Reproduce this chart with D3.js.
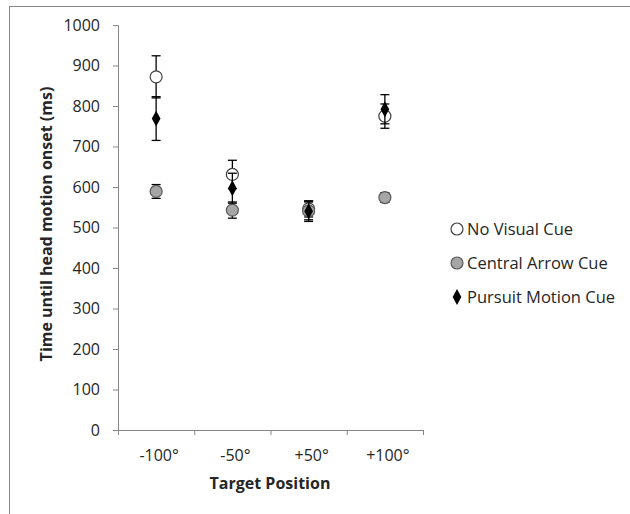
<!DOCTYPE html>
<html><head><meta charset="utf-8">
<script src="https://cdn.jsdelivr.net/npm/d3@7"></script>
<style>body{margin:0;background:#fff}svg{display:block}</style>
</head><body>
<svg id="c" width="630" height="514"></svg>
<script>
const categories = ["-100°", "-50°", "+50°", "+100°"];
const seriesNames = ["No Visual Cue", "Central Arrow Cue", "Pursuit Motion Cue"];
const noVisual = [872, 631, 546, 775];
const noVisualErr = [52, 35, 20, 30];
const centralArrow = [589, 543, 541, 574];
const centralArrowErr = [17, 20, 22, 12];
const pursuit = [769, 597, 540, 792];
const pursuitErr = [54, 37, 25, 36];
const yTicks = [0, 100, 200, 300, 400, 500, 600, 700, 800, 900, 1000];

const svg = d3.select("#c");
const font = "'Open Sans', sans-serif";
const txt = "#262626";

svg.append("rect").attr("x", 9.5).attr("y", 6.5).attr("width", 640).attr("height", 530)
  .attr("fill", "#fff").attr("stroke", "#8a8a8a").attr("stroke-width", 1);

const L = 118, R = 423, T = 25, B = 430;
const x = d3.scaleBand().domain(categories).range([L, R]);
const xEdge = d3.scaleLinear().domain([0, categories.length]).range([L, R]);
const y = d3.scaleLinear().domain([0, 1000]).range([B, T]);

// y axis
const ya = svg.append("g").attr("transform", `translate(${L},0)`)
  .call(d3.axisLeft(y).tickValues(yTicks).tickSize(5).tickSizeOuter(0).tickPadding(13).tickFormat(d3.format("d")));
ya.select(".domain").attr("stroke", "#868686");
ya.selectAll(".tick line").attr("stroke", "#868686");
ya.selectAll("text").attr("font-family", font).attr("font-size", 16).attr("fill", txt);

// x axis ticks at edges
const xe = svg.append("g").attr("transform", `translate(0,${B})`)
  .call(d3.axisBottom(xEdge).ticks(4).tickSize(5).tickSizeOuter(0).tickFormat(""));
xe.select(".domain").attr("stroke", "#868686");
xe.selectAll(".tick line").attr("stroke", "#868686");
// x labels
const xl = svg.append("g").attr("transform", `translate(3,${B})`)
  .call(d3.axisBottom(x).tickSize(0).tickPadding(20));
xl.select(".domain").remove();
xl.selectAll("text").attr("font-family", font).attr("font-size", 16).attr("fill", txt);

// titles
svg.append("text").attr("x", 270).attr("y", 489).attr("text-anchor", "middle")
  .attr("font-family", font).attr("font-weight", "bold").attr("font-size", 16).attr("fill", txt)
  .text("Target Position");
svg.append("text").attr("transform", "translate(52,224) rotate(-90)").attr("text-anchor", "middle")
  .attr("font-family", font).attr("font-weight", "bold").attr("font-size", 16).attr("fill", txt)
  .text("Time until head motion onset (ms)");

const series = [
  {name: seriesNames[0], vals: noVisual, err: noVisualErr, type: "circle", fill: "#ffffff", stroke: "#404040"},
  {name: seriesNames[1], vals: centralArrow, err: centralArrowErr, type: "circle", fill: "#a6a6a6", stroke: "#595959"},
  {name: seriesNames[2], vals: pursuit, err: pursuitErr, type: "diamond", fill: "#000000", stroke: "#000000"}
];

const diamond = d3.symbol().type(d3.symbolDiamond).size(60);
const cap = 4.5;

function marker(g, s, cx, cy) {
  if (s.type === "circle") {
    g.append("circle").attr("cx", cx).attr("cy", cy).attr("r", 6)
      .attr("fill", s.fill).attr("stroke", s.stroke).attr("stroke-width", 1.2);
  } else {
    g.append("path").attr("d", diamond).attr("transform", `translate(${cx},${cy}) scale(1.05,1.1)`)
      .attr("fill", s.fill);
  }
}

series.forEach(s => {
  const g = svg.append("g");
  categories.forEach((c, i) => {
    const cx = x(c) + x.bandwidth() / 2;
    const v = s.vals[i], e = s.err[i];
    const y1 = y(v + e), y2 = y(v - e);
    g.append("line").attr("x1", cx).attr("x2", cx).attr("y1", y1).attr("y2", y2).attr("stroke", "#000").attr("stroke-width", 1.3);
    [y1, y2].forEach(yy => g.append("line").attr("x1", cx - cap).attr("x2", cx + cap).attr("y1", yy).attr("y2", yy).attr("stroke", "#000").attr("stroke-width", 1.3));
    marker(g, s, cx, y(v));
  });
});

// legend
const legY = [229, 263, 297];
series.forEach((s, i) => {
  const g = svg.append("g");
  marker(g, s, 457, legY[i]);
  g.append("text").attr("x", 467).attr("y", legY[i]).attr("dy", "0.35em")
    .attr("font-family", font).attr("font-size", 16.5).attr("fill", txt).text(s.name);
});
</script>
</body></html>
